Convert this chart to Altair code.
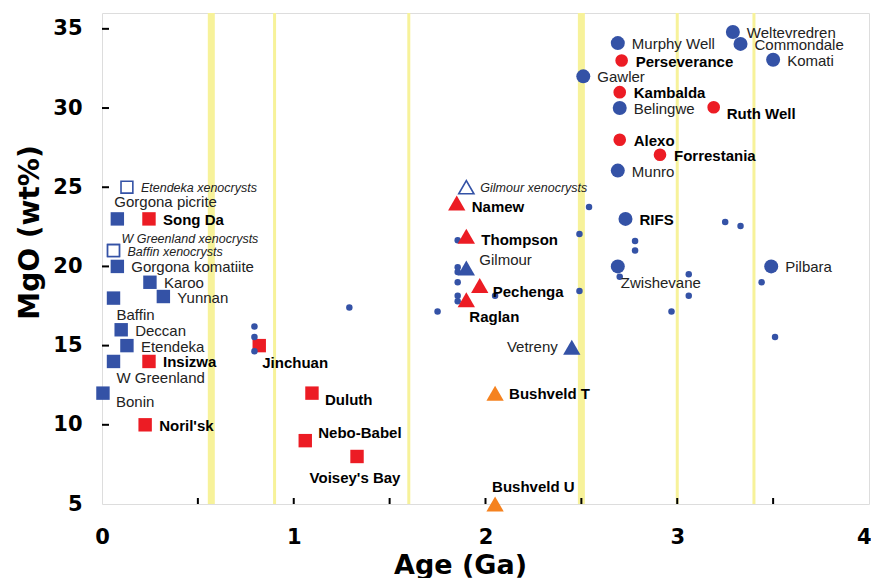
import altair as alt
import pandas as pd

# ---------------- data ----------------
# Blue filled squares
bsq_names = ["Gorgona picrite", "Gorgona komatiite", "Karoo", "Yunnan", "Baffin",
             "Deccan", "Etendeka", "W Greenland", "Bonin"]
bsq_age = [0.08, 0.08, 0.25, 0.32, 0.06, 0.10, 0.13, 0.06, 0.005]
bsq_mgo = [23.0, 20.0, 19.0, 18.1, 18.0, 16.0, 15.0, 14.0, 12.0]
bsq_place = ["above", "right", "right", "right", "below", "right", "right", "below", "below_r"]

# Blue open squares (xenocrysts)
osq_names = ["Etendeka xenocrysts", "W Greenland xenocrysts", "Baffin xenocrysts"]
osq_age = [0.13, 0.06, 0.06]
osq_mgo = [25.0, 21.0, 21.0]
osq_place = ["right", "above_r", "right"]

# Red squares
rsq_names = ["Song Da", "Insizwa", "Noril'sk", "Jinchuan", "Duluth", "Nebo-Babel", "Voisey's Bay"]
rsq_age = [0.245, 0.245, 0.225, 0.82, 1.095, 1.06, 1.33]
rsq_mgo = [23.0, 14.0, 10.0, 15.0, 12.0, 9.0, 8.0]
rsq_place = ["right", "right", "right", "below", "right_low", "right_high", "below_c"]

# Red triangles
rtr_names = ["Namew", "Thompson", "Pechenga", "Raglan"]
rtr_age = [1.85, 1.90, 1.97, 1.90]
rtr_mgo = [24.0, 21.9, 18.8, 17.9]
rtr_place = ["right_dn", "right_dn", "right_low", "below"]

# Blue triangles
btr_names = ["Gilmour", "Vetreny"]
btr_age = [1.90, 2.45]
btr_mgo = [19.9, 14.9]
btr_place = ["right_high", "left"]

# Blue open triangle
otr_names = ["Gilmour xenocrysts"]
otr_age = [1.90]
otr_mgo = [25.0]
otr_place = ["right"]

# Orange triangles
ytr_names = ["Bushveld T", "Bushveld U"]
ytr_age = [2.05, 2.05]
ytr_mgo = [12.0, 5.0]
ytr_place = ["right", "above"]

# Blue circles (Archean komatiites)
bci_names = ["Weltevredren", "Murphy Well", "Commondale", "Komati", "Gawler", "Belingwe",
             "Munro", "RIFS", "Zwishevane", "Pilbara"]
bci_age = [3.29, 2.69, 3.33, 3.50, 2.51, 2.70, 2.69, 2.73, 2.69, 3.49]
bci_mgo = [34.8, 34.1, 34.05, 33.05, 32.0, 30.0, 26.05, 23.0, 20.0, 20.0]
bci_place = ["right", "right", "right", "right", "right", "right", "right", "right", "below", "right"]
bci_style = ["normal"] * 7 + ["bold", "normal", "normal"]

# Red circles
rci_names = ["Perseverance", "Kambalda", "Ruth Well", "Alexo", "Forrestania"]
rci_age = [2.71, 2.70, 3.19, 2.70, 2.91]
rci_mgo = [33.0, 31.0, 30.05, 28.0, 27.05]
rci_place = ["right", "right", "right_low", "right", "right"]

# Small blue dots (unlabelled)
dot_age = [0.795, 0.795, 0.795, 1.29, 1.855, 1.855, 1.855, 1.855, 1.855, 1.855, 1.75, 2.05,
           2.54, 2.49, 2.49, 2.70, 2.78, 2.78, 3.25, 3.33, 3.06, 3.06, 2.97, 3.44, 3.51]
dot_mgo = [16.2, 15.55, 14.65, 17.4, 21.65, 19.95, 19.65, 19.0, 18.15, 17.8, 17.15, 18.15,
           23.75, 22.05, 18.45, 19.35, 21.6, 21.0, 22.8, 22.55, 19.5, 18.15, 17.15, 19.0, 15.55]

# Yellow age bands
band_age = [0.57, 0.9, 1.6, 2.5, 3.0, 3.4]
band_kind = ["wide", "thin", "thin", "wide", "thin", "thin"]

x_tick_values = [0.5, 1.0, 1.5, 2.0, 2.5, 3.0, 3.5]
y_tick_values = [10, 15, 20, 25, 30, 35]
x_label_values = [0, 1, 2, 3, 4]
y_label_values = [5, 10, 15, 20, 25, 30, 35]

# ---------------- styling ----------------
BLUE = "#3452a6"
RED = "#ec1c24"
ORANGE = "#f5821f"
BAND = "#f7f29a"
W, H = 767, 491

placements = {
    "right": (14, 1, "left"),
    "right_dn": (15, 4, "left"),
    "right_low": (13, 7, "left"),
    "right_high": (13, -8, "left"),
    "above": (-3, -17, "left"),
    "above_r": (8, -12, "left"),
    "below": (3, 17, "left"),
    "below_r": (13, 9, "left"),
    "below_c": (-2, 22, "center"),
    "left": (-14, 0, "right"),
}
styles = {
    "normal": dict(fontSize=15, fontWeight="normal", fontStyle="normal", color="#222222"),
    "bold": dict(fontSize=15, fontWeight="bold", fontStyle="normal", color="black"),
    "italic": dict(fontSize=12.5, fontWeight="normal", fontStyle="italic", color="#222222"),
}

x_scale = alt.Scale(domain=[0, 4], nice=False, zero=False)
y_scale = alt.Scale(domain=[5, 36], nice=False, zero=False)

x_axis = alt.Axis(values=x_label_values, format="d", grid=False, ticks=False, domain=False,
                  labelFont="DejaVu Sans", labelFontSize=21, labelFontWeight="bold",
                  labelColor="black", labelPadding=22, labelFlush=False, labelOverlap=False,
                  labelAlign={"condition": {"test": "datum.value === 4", "value": "right"},
                              "value": "center"},
                  labelOffset={"condition": {"test": "datum.value === 4", "value": 2},
                               "value": 0},
                  title="Age (Ga)", titleFont="DejaVu Sans", titleFontSize=27,
                  titleFontWeight="bold", titleColor="black", titleX=358, titleY=69,
                  titleAlign="center", titleBaseline="alphabetic")
y_axis = alt.Axis(values=y_label_values, format="d", grid=False, ticks=False, domain=False,
                  labelFont="DejaVu Sans", labelFontSize=21, labelFontWeight="bold",
                  labelColor="black", labelPadding=20, labelFlush=False, labelOverlap=False,
                  title="MgO (wt%)", titleFont="DejaVu Sans", titleFontSize=28,
                  titleFontWeight="bold", titleColor="black", titleX=-72, titleY=219,
                  titleAngle=270, titleAlign="center", titleBaseline="middle")

X = alt.X("age:Q", scale=x_scale, axis=x_axis)
Y = alt.Y("mgo:Q", scale=y_scale, axis=y_axis)


def frame(names, ages, mgos):
    return pd.DataFrame({"name": names, "age": ages, "mgo": mgos})


layers = []

# bands
bands_df = pd.DataFrame({"age": band_age, "kind": band_kind})
layers.append(
    alt.Chart(bands_df).mark_rule(color=BAND).encode(
        x=X,
        strokeWidth=alt.StrokeWidth("kind:N", scale=alt.Scale(domain=["wide", "thin"], range=[7, 3]),
                                    legend=None),
    )
)

# inward ticks
layers.append(
    alt.Chart(pd.DataFrame({"age": x_tick_values})).mark_rule(color="black", strokeWidth=2).encode(
        x=X, y=alt.value(H), y2=alt.value(H - 6)
    )
)
layers.append(
    alt.Chart(pd.DataFrame({"mgo": y_tick_values})).mark_rule(color="black", strokeWidth=2).encode(
        y=Y, x=alt.value(0), x2=alt.value(7)
    )
)

# symbols
series = [
    (frame(bsq_names, bsq_age, bsq_mgo), dict(shape="square", size=180, fill=BLUE, stroke=None)),
    (frame(osq_names, osq_age, osq_mgo), dict(shape="square", size=140, fill="white", stroke=BLUE)),
    (frame(rsq_names, rsq_age, rsq_mgo), dict(shape="square", size=180, fill=RED, stroke=None)),
    (frame(btr_names, btr_age, btr_mgo), dict(shape="triangle-up", size=300, fill=BLUE, stroke=None)),
    (frame(otr_names, otr_age, otr_mgo), dict(shape="triangle-up", size=230, fill="white", stroke=BLUE)),
    (frame(ytr_names, ytr_age, ytr_mgo), dict(shape="triangle-up", size=300, fill=ORANGE, stroke=None)),
    (frame([""] * len(dot_age), dot_age, dot_mgo), dict(shape="circle", size=42, fill=BLUE, stroke=None)),
    (frame(bci_names, bci_age, bci_mgo), dict(shape="circle", size=196, fill=BLUE, stroke=None)),
    (frame(rci_names, rci_age, rci_mgo), dict(shape="circle", size=160, fill=RED, stroke=None)),
    (frame(rtr_names, rtr_age, rtr_mgo), dict(shape="triangle-up", size=300, fill=RED, stroke=None)),
]
for df, st in series:
    kw = dict(shape=st["shape"], size=st["size"], filled=True, fill=st["fill"], opacity=1)
    if st["stroke"]:
        kw.update(stroke=st["stroke"], strokeWidth=1.6)
    else:
        kw.update(strokeWidth=0)
    layers.append(alt.Chart(df).mark_point(**kw).encode(x=X, y=Y))

# labels
lab_frames = []


def add_labels(names, ages, mgos, places, style_list):
    lab_frames.append(pd.DataFrame({"name": names, "age": ages, "mgo": mgos,
                                    "place": places, "style": style_list}))


add_labels(bsq_names, bsq_age, bsq_mgo, bsq_place, ["normal"] * len(bsq_names))
add_labels(osq_names, osq_age, osq_mgo, osq_place, ["italic"] * len(osq_names))
add_labels(rsq_names, rsq_age, rsq_mgo, rsq_place, ["bold"] * len(rsq_names))
add_labels(rtr_names, rtr_age, rtr_mgo, rtr_place, ["bold"] * len(rtr_names))
add_labels(btr_names, btr_age, btr_mgo, btr_place, ["normal"] * len(btr_names))
add_labels(otr_names, otr_age, otr_mgo, otr_place, ["italic"] * len(otr_names))
add_labels(ytr_names, ytr_age, ytr_mgo, ytr_place, ["bold"] * len(ytr_names))
add_labels(bci_names, bci_age, bci_mgo, bci_place, bci_style)
add_labels(rci_names, rci_age, rci_mgo, rci_place, ["bold"] * len(rci_names))
labels = pd.concat(lab_frames, ignore_index=True)

for (pl, sty), sub in labels.groupby(["place", "style"]):
    dx, dy, align = placements[pl]
    s = styles[sty]
    layers.append(
        alt.Chart(sub).mark_text(
            align=align, baseline="middle", dx=dx, dy=dy, font="Liberation Sans",
            fontSize=s["fontSize"], fontWeight=s["fontWeight"], fontStyle=s["fontStyle"],
            color=s["color"],
        ).encode(x=X, y=Y, text="name:N")
    )

chart = alt.layer(*layers).properties(
    width=W, height=H,
    autosize=alt.AutoSizeParams(type="none"),
    padding={"left": 94, "top": 5, "right": 2, "bottom": 74},
).configure_view(stroke="black", strokeWidth=3).configure(background="white")

chart.save("out.html", embed_options={"renderer": "svg", "actions": False})
